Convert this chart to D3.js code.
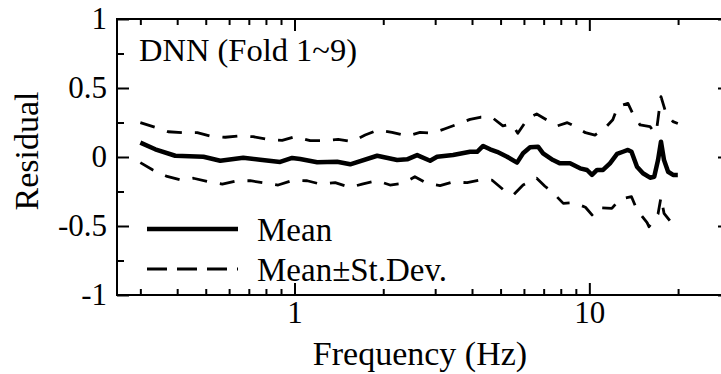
<!DOCTYPE html>
<html>
<head>
<meta charset="utf-8">
<script src="https://cdn.jsdelivr.net/npm/d3@7"></script>
<style>
  html, body { margin: 0; padding: 0; background: #fff; }
  svg { display: block; }
</style>
</head>
<body>
<svg id="chart" width="721" height="374"></svg>
<script>
// Residual spectrum, mean and mean ± one standard deviation, [frequency Hz, residual]
const meanCurve = [
  [0.30, 0.104], [0.337, 0.056], [0.394, 0.009], [0.491, 0.002], [0.560, -0.027],
  [0.670, -0.005], [0.765, -0.020], [0.894, -0.036], [0.982, -0.007], [1.045, -0.015],
  [1.194, -0.038], [1.395, -0.034], [1.545, -0.053], [1.907, 0.009], [2.229, -0.022],
  [2.41, -0.017], [2.606, 0.014], [2.884, -0.027], [3.045, 0.002], [3.45, 0.014],
  [3.94, 0.038], [4.163, 0.038], [4.363, 0.080], [4.607, 0.056], [4.865, 0.038],
  [5.26, 0.002], [5.686, -0.041], [5.96, 0.027], [6.295, 0.070], [6.70, 0.075],
  [6.967, 0.027], [7.53, -0.022], [7.953, -0.046], [8.6, -0.046], [9.30, -0.082],
  [9.82, -0.094], [10.21, -0.130], [10.62, -0.094], [11.13, -0.094], [11.75, -0.046],
  [12.42, 0.022], [13.0, 0.038], [13.52, 0.051], [13.9, 0.038], [14.51, -0.070],
  [15.2, -0.118], [16.07, -0.150], [16.6, -0.143], [17.1, -0.022], [17.5, 0.111],
  [17.92, -0.022], [18.5, -0.107], [19.23, -0.130], [19.96, -0.130]
];

const upperCurve = [
  [0.30, 0.249], [0.337, 0.215], [0.373, 0.183], [0.416, 0.176], [0.468, 0.176],
  [0.518, 0.152], [0.582, 0.143], [0.644, 0.152], [0.724, 0.147], [0.808, 0.128],
  [0.908, 0.120], [1.005, 0.147], [1.13, 0.118], [1.251, 0.118], [1.406, 0.128],
  [1.569, 0.111], [1.736, 0.159], [1.922, 0.196], [2.142, 0.179], [2.41, 0.152],
  [2.665, 0.178], [2.944, 0.172], [3.24, 0.205], [3.58, 0.239], [3.94, 0.273],
  [4.26, 0.288], [4.67, 0.288], [5.09, 0.225], [5.46, 0.239], [5.72, 0.172],
  [6.19, 0.280], [6.63, 0.312], [7.18, 0.268], [7.77, 0.225], [8.42, 0.249],
  [8.97, 0.220], [9.70, 0.176], [10.45, 0.159], [11.29, 0.208], [12.01, 0.270],
  [12.49, 0.366], [13.52, 0.389], [14.06, 0.312], [14.86, 0.232], [16.07, 0.220],
  [16.7, 0.172], [16.96, 0.217], [17.2, 0.317], [17.5, 0.437], [18.2, 0.317],
  [19.23, 0.256], [19.96, 0.243]
];

const lowerCurve = [
  [0.30, -0.041], [0.331, -0.094], [0.367, -0.138], [0.413, -0.167], [0.454, -0.154],
  [0.51, -0.179], [0.569, -0.196], [0.639, -0.172], [0.708, -0.172], [0.783, -0.186],
  [0.88, -0.203], [0.99, -0.169], [1.104, -0.172], [1.222, -0.196], [1.374, -0.186],
  [1.545, -0.220], [1.696, -0.196], [1.907, -0.172], [2.109, -0.203], [2.334, -0.191],
  [2.56, -0.143], [2.815, -0.192], [3.116, -0.207], [3.45, -0.181], [3.85, -0.186],
  [4.26, -0.167], [4.67, -0.167], [5.09, -0.234], [5.52, -0.275], [5.96, -0.203],
  [6.63, -0.154], [7.07, -0.212], [7.53, -0.259], [8.16, -0.336], [8.83, -0.331],
  [9.70, -0.364], [10.21, -0.420], [10.62, -0.366], [11.92, -0.372], [12.72, -0.304],
  [13.9, -0.288], [14.51, -0.384], [15.7, -0.476], [15.93, -0.505], [16.45, -0.469],
  [17.1, -0.413], [17.5, -0.292], [17.92, -0.408], [19.04, -0.480], [19.96, -0.505]
];

const xMajorTicks = [1, 10];
const xMinorTicks = [0.3, 0.4, 0.5, 0.6, 0.7, 0.8, 0.9, 2, 3, 4, 5, 6, 7, 8, 9, 20];
const yMajorTicks = [-1, -0.5, 0, 0.5, 1];
const yMinorTicks = [-0.75, -0.25, 0.25, 0.75];
const yTickLabels = ["-1", "-0.5", "0", "0.5", "1"];
const legendLabels = ["Mean", "Mean\u00B1St.Dev."];
const panelTitle = "DNN (Fold 1~9)";
const xTitle = "Frequency (Hz)";
const yTitle = "Residual";

const FONT = "'Liberation Serif', 'Times New Roman', Times, 'DejaVu Serif', serif";

const svg = d3.select("#chart");
const plotLeft = 117, plotRight = 730, plotTop = 19, plotBottom = 295;

const x = d3.scaleLog().domain([0.25, 30]).range([plotLeft, plotRight]);
const y = d3.scaleLinear().domain([-1, 1]).range([plotBottom, plotTop]);

const majorLen = 12, minorLen = 6;

function styleAxis(g) {
  g.attr("font-family", FONT);
  g.select(".domain").remove();
  g.selectAll(".tick line").attr("stroke", "#000").attr("stroke-width", 2);
  g.selectAll(".tick text").attr("font-size", 31).attr("fill", "#000")
    .attr("font-family", FONT);
}

// bottom axis with labels
svg.append("g").attr("transform", `translate(0,${plotBottom})`)
  .call(d3.axisBottom(x).tickValues(xMajorTicks).tickSize(-majorLen).tickPadding(6)
    .tickFormat(d3.format("d")))
  .call(styleAxis);
svg.append("g").attr("transform", `translate(0,${plotBottom})`)
  .call(d3.axisBottom(x).tickValues(xMinorTicks).tickSize(-minorLen).tickFormat(""))
  .call(styleAxis);
// top axis
svg.append("g").attr("transform", `translate(0,${plotTop})`)
  .call(d3.axisTop(x).tickValues(xMajorTicks).tickSize(-majorLen).tickFormat(""))
  .call(styleAxis);
svg.append("g").attr("transform", `translate(0,${plotTop})`)
  .call(d3.axisTop(x).tickValues(xMinorTicks).tickSize(-minorLen).tickFormat(""))
  .call(styleAxis);
// left axis with labels
svg.append("g").attr("transform", `translate(${plotLeft},0)`)
  .call(d3.axisLeft(y).tickValues(yMajorTicks).tickSize(-majorLen).tickPadding(10)
    .tickFormat((d, i) => yTickLabels[i]))
  .call(styleAxis);
svg.append("g").attr("transform", `translate(${plotLeft},0)`)
  .call(d3.axisLeft(y).tickValues(yMinorTicks).tickSize(-7).tickFormat(""))
  .call(styleAxis);
// right axis
svg.append("g").attr("transform", `translate(${plotRight},0)`)
  .call(d3.axisRight(y).tickValues(yMajorTicks).tickSize(-majorLen).tickFormat(""))
  .call(styleAxis);
svg.append("g").attr("transform", `translate(${plotRight},0)`)
  .call(d3.axisRight(y).tickValues(yMinorTicks).tickSize(-7).tickFormat(""))
  .call(styleAxis);

// frame
svg.append("rect")
  .attr("x", plotLeft).attr("y", plotTop)
  .attr("width", plotRight - plotLeft).attr("height", plotBottom - plotTop)
  .attr("fill", "none").attr("stroke", "#000").attr("stroke-width", 2);

const line = d3.line().x(d => x(d[0])).y(d => y(d[1]));

[upperCurve, lowerCurve].forEach(c => {
  svg.append("path").datum(c).attr("d", line)
    .attr("fill", "none").attr("stroke", "#000").attr("stroke-width", 2.8)
    .attr("stroke-dasharray", "15,13").attr("stroke-linejoin", "round");
});
svg.append("path").datum(meanCurve).attr("d", line)
  .attr("fill", "none").attr("stroke", "#000").attr("stroke-width", 4.5)
  .attr("stroke-linejoin", "round");

function addText(sel) {
  return sel.append("text").attr("font-family", FONT).attr("fill", "#000");
}

// panel title
addText(svg).attr("x", 139).attr("y", 61).attr("font-size", 32.5).text(panelTitle);

// legend
const legend = svg.append("g");
legendLabels.forEach((lab, i) => {
  const ly = 229 + i * 40;
  legend.append("line").attr("x1", 147).attr("x2", 238).attr("y1", ly).attr("y2", ly)
    .attr("stroke", "#000")
    .attr("stroke-width", i === 0 ? 4.5 : 2.8)
    .attr("stroke-dasharray", i === 0 ? null : "20,10");
  addText(legend).attr("x", 257).attr("y", ly + 12).attr("font-size", 33).text(lab);
});

// axis titles
addText(svg).attr("x", 420).attr("y", 365).attr("text-anchor", "middle")
  .attr("font-size", 34).text(xTitle);
addText(svg).attr("transform", "translate(38,151) rotate(-90)")
  .attr("text-anchor", "middle").attr("font-size", 34).text(yTitle);
</script>
</body>
</html>
